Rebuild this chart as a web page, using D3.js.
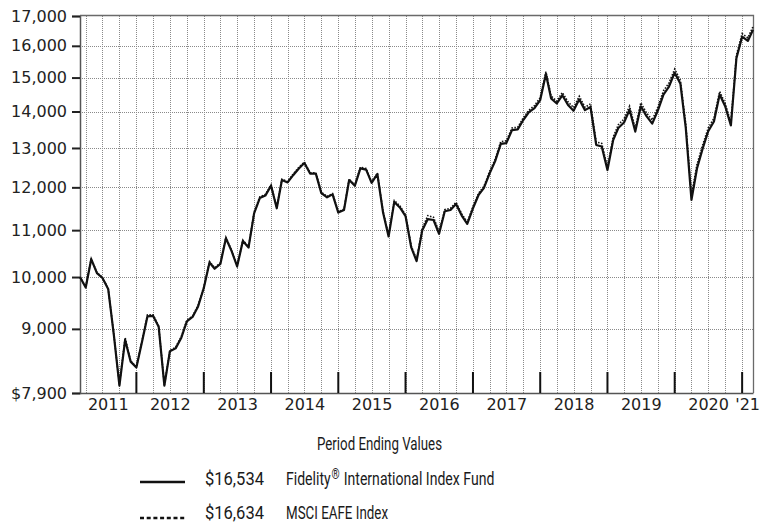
<!DOCTYPE html>
<html>
<head>
<meta charset="utf-8">
<script src="https://cdn.jsdelivr.net/npm/d3@7"></script>
<style>
  html, body { margin: 0; padding: 0; background: #fff; }
  svg { display: block; }
</style>
</head>
<body>
<svg id="chart" width="760" height="525"></svg>
<script>
// ---------- DATA ----------
// Month-end values, Feb 2011 .. Feb 2021 (121 months), hypothetical $10,000 investment
const startYear = 2011, startMonth = 1; // Feb 2011 (0-based month)
const fundValues = [
  10000, 9790, 10370, 10080, 9980, 9760, 8880, 8020, 8800, 8420, 8320,
  8770, 9230, 9240, 9040, 8020, 8600, 8650, 8840, 9140, 9220, 9420, 9780,
  10300, 10170, 10270, 10820, 10540, 10220, 10760, 10620, 11380, 11740, 11800, 12040,
  11500, 12180, 12120, 12300, 12470, 12610, 12340, 12340, 11860, 11760, 11830, 11400,
  11460, 12180, 12040, 12470, 12440, 12110, 12330, 11400, 10860, 11650, 11520, 11320,
  10620, 10330, 11000, 11250, 11230, 10920, 11430, 11460, 11600, 11330, 11140, 11500,
  11820, 11980, 12340, 12650, 13110, 13130, 13480, 13500, 13760, 13980, 14100, 14330,
  15110, 14380, 14230, 14470, 14190, 14020, 14350, 14040, 14130, 13080, 13040, 12430,
  13210, 13540, 13690, 14050, 13440, 14150, 13870, 13660, 14020, 14490, 14730, 15150,
  14810, 13550, 11700, 12470, 12990, 13450, 13720, 14490, 14150, 13610, 15600, 16300,
  16160, 16534
];
const indexValues = [
  10000, 9800, 10380, 10090, 9990, 9770, 8890, 8040, 8840, 8430, 8330,
  8790, 9260, 9260, 9050, 8030, 8610, 8670, 8860, 9160, 9240, 9440, 9800,
  10320, 10190, 10290, 10840, 10560, 10230, 10780, 10630, 11410, 11770, 11830, 12060,
  11520, 12200, 12140, 12330, 12500, 12630, 12360, 12360, 11880, 11780, 11850, 11420,
  11480, 12200, 12060, 12500, 12470, 12130, 12350, 11430, 10890, 11680, 11560, 11350,
  10650, 10360, 11040, 11330, 11290, 10960, 11470, 11500, 11640, 11370, 11180, 11540,
  11860, 12020, 12390, 12700, 13170, 13190, 13540, 13560, 13820, 14040, 14170, 14400,
  15180, 14450, 14300, 14550, 14280, 14110, 14440, 14120, 14220, 13160, 13120, 12500,
  13290, 13630, 13790, 14150, 13530, 14250, 13960, 13760, 14120, 14600, 14840, 15260,
  14910, 13640, 11810, 12570, 13080, 13540, 13810, 14580, 14230, 13680, 15700, 16400,
  16260, 16634
];
const yTickValues = [7900, 9000, 10000, 11000, 12000, 13000, 14000, 15000, 16000, 17000];
const yTickLabels = ["$7,900", "9,000", "10,000", "11,000", "12,000", "13,000", "14,000", "15,000", "16,000", "17,000"];
const yearLabels = ["2011", "2012", "2013", "2014", "2015", "2016", "2017", "2018", "2019", "2020", "'21"];
const legendNames = [["Fidelity", "®", " International Index Fund"], ["MSCI EAFE Index"]];
const legendValues = ["$16,534", "$16,634"];
const legendTitle = "Period Ending Values";

// ---------- CHART ----------
const svg = d3.select("#chart");
const L = 80, R = 753, T = 16, B = 393;
const monthEnd = i => new Date(startYear, startMonth + i + 1, 0);
const dStart = monthEnd(0), dEnd = monthEnd(fundValues.length - 1);

const x = d3.scaleTime().domain([dStart, dEnd]).range([L, R]);
const y = d3.scaleLog().domain([7900, 17000]).range([B, T]);

const gridColor = "#8a8a8a";
// vertical quarterly gridlines
const quarterEnds = [];
for (let yr = startYear; yr <= 2020; yr++) {
  [3, 6, 9, 12].forEach(m => {
    const d = new Date(yr, m, 0);
    if (d > dStart && d < dEnd) quarterEnds.push(d);
  });
}
svg.append("g").selectAll("line").data(quarterEnds).join("line")
  .attr("x1", d => Math.round(x(d)) + 0.5).attr("x2", d => Math.round(x(d)) + 0.5)
  .attr("y1", T).attr("y2", B)
  .attr("stroke", gridColor).attr("stroke-width", 1).attr("stroke-dasharray", "1,1");

// horizontal gridlines
svg.append("g").selectAll("line").data(yTickValues.slice(1, -1)).join("line")
  .attr("x1", L).attr("x2", R)
  .attr("y1", d => Math.round(y(d)) + 0.5).attr("y2", d => Math.round(y(d)) + 0.5)
  .attr("stroke", gridColor).attr("stroke-width", 1).attr("stroke-dasharray", "1,1");

// frame (top + right)
svg.append("path")
  .attr("d", `M${L},${T - 0.5}H${R + 0.5}V${B}`)
  .attr("fill", "none").attr("stroke", "#6a6a6a").attr("stroke-width", 1.3);

// Y axis
const yAxis = d3.axisLeft(y).tickValues(yTickValues)
  .tickFormat((d, i) => yTickLabels[i]).tickSize(8).tickPadding(5);
const gy = svg.append("g").attr("transform", `translate(${L},0)`).call(yAxis);
gy.select(".domain").attr("stroke", "#555").attr("stroke-width", 1.5);
gy.selectAll(".tick line").attr("stroke", "#222").attr("stroke-width", 2);
gy.selectAll(".tick text")
  .attr("font-family", "'DejaVu Sans', Verdana, sans-serif")
  .attr("font-size", 16).attr("fill", "#222");

// X axis line
svg.append("line").attr("x1", L).attr("x2", R + 0.5).attr("y1", B + 0.5).attr("y2", B + 0.5)
  .attr("stroke", "#555").attr("stroke-width", 1.5);

// Year ticks (Dec 31)
const yearEnds = d3.range(startYear, 2021).map(yr => new Date(yr, 11, 31));
svg.append("g").selectAll("line").data(yearEnds).join("line")
  .attr("x1", d => x(d)).attr("x2", d => x(d))
  .attr("y1", B - 21).attr("y2", B)
  .attr("stroke", "#111").attr("stroke-width", 2);

// Year labels centred on each year's span within the domain
svg.append("g").selectAll("text").data(yearLabels).join("text")
  .attr("x", (d, i) => {
    const a = new Date(startYear + i, 0, 1), b = new Date(startYear + i + 1, 0, 1);
    const aa = a < dStart ? dStart : a, bb = b > dEnd ? dEnd : b;
    return (x(aa) + x(bb)) / 2;
  })
  .attr("y", 410)
  .attr("text-anchor", "middle")
  .attr("font-family", "'DejaVu Sans', Verdana, sans-serif")
  .attr("font-size", 16).attr("fill", "#222")
  .text(d => d);

// Lines
const line = d3.line().x((d, i) => x(monthEnd(i))).y(d => y(d));
svg.append("path").datum(indexValues).attr("d", line)
  .attr("fill", "none").attr("stroke", "#111").attr("stroke-width", 1.6)
  .attr("stroke-dasharray", "1.5,1.5");
svg.append("path").datum(fundValues).attr("d", line)
  .attr("fill", "none").attr("stroke", "#111").attr("stroke-width", 2.2)
  .attr("stroke-linejoin", "round");

// ---------- LEGEND ----------
const lf = "'Liberation Sans Narrow', 'Arial Narrow', 'Roboto', sans-serif";
const lg = svg.append("g").attr("fill", "#1a1a1a").attr("font-family", lf).attr("font-size", 19);
function txt(s, x0, yb, w) {
  return lg.append("text").attr("x", x0).attr("y", yb)
    .attr("textLength", w).attr("lengthAdjust", "spacingAndGlyphs").text(s);
}
txt(legendTitle, 317, 450, 125);
// row 1
lg.append("line").attr("x1", 140).attr("x2", 185).attr("y1", 482).attr("y2", 482)
  .attr("stroke", "#111").attr("stroke-width", 2.5);
txt(legendValues[0], 205, 485, 59);
// fund name with superscript ® : natural layout, then horizontally scaled to fit
const n1g = lg.append("g");
const n1 = n1g.append("text").attr("x", 0).attr("y", 0);
n1.append("tspan").text(legendNames[0][0]);
n1.append("tspan").attr("font-size", 14).attr("dy", -6).attr("dx", 1).text(legendNames[0][1]);
n1.append("tspan").attr("dy", 6).attr("dx", 1).text(legendNames[0][2]);
const w1 = n1.node().getComputedTextLength() || 207;
n1g.attr("transform", `translate(286,485) scale(${207 / w1},1)`);
// row 2
lg.append("line").attr("x1", 140).attr("x2", 185).attr("y1", 518).attr("y2", 518)
  .attr("stroke", "#111").attr("stroke-width", 2.5).attr("stroke-dasharray", "4,2.7");
txt(legendValues[1], 205, 518.5, 59);
txt(legendNames[1][0], 286, 518.5, 102);
</script>
</body>
</html>
